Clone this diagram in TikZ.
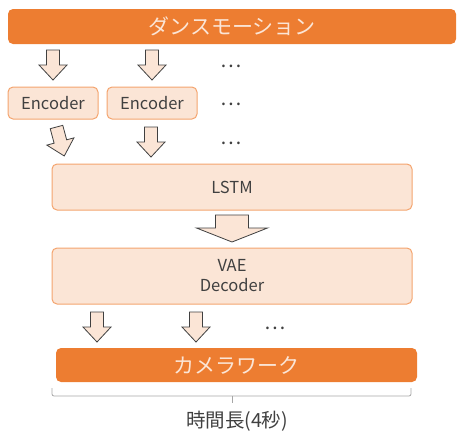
\documentclass[tikz,border=0pt]{standalone}
\usepackage{fontspec}
\setmainfont{Noto Sans CJK JP}
\definecolor{orng}{HTML}{ED7D31}
\definecolor{pale}{HTML}{FBE5D6}
\definecolor{edge}{HTML}{F4A46E}
\definecolor{txt}{HTML}{404040}
\definecolor{brc}{HTML}{A6A6A6}
\begin{document}
\begin{tikzpicture}[x=1pt,y=-1pt,
  bar/.style={fill=orng, rounded corners=5pt, text=pale, font=\fontsize{21}{24}\selectfont, inner sep=0pt},
  box/.style={fill=pale, draw=edge, line width=1pt, rounded corners=5pt, text=txt, font=\fontsize{16.5}{20}\selectfont, inner sep=0pt, align=center},
  blk/.pic={\draw[fill=pale, draw=txt, line width=0.8pt, line join=miter] (-6.5,0) -- (6.5,0) -- (6.5,15) -- (14,15) -- (0,30) -- (-14,15) -- (-6.5,15) -- cycle;},
  bigblk/.pic={\draw[fill=pale, draw=txt, line width=0.8pt, line join=miter] (-16.5,0) -- (16.5,0) -- (16.5,13) -- (35.5,13) -- (0,27) -- (-35.5,13) -- (-16.5,13) -- cycle;},
  dotstyle/.style={text=txt, font=\fontsize{20}{20}\selectfont, inner sep=0pt},
  labelstyle/.style={text=txt, font=\fontsize{19.5}{22}\selectfont, inner sep=0pt}
]
\useasboundingbox (0,0) rectangle (457,432);

% top bar
\node[bar, minimum width=448pt, minimum height=35pt] (dance) at (232,26.5) {ダンスモーション};

% arrows row 1
\pic at (53,50) {blk};
\pic at (152,50) {blk};
\node[dotstyle] (d1) at (231.5,66) {…};

% encoders
\node[box, minimum width=90pt, minimum height=32pt] (enc1) at (53,103) {Encoder};
\node[box, minimum width=90pt, minimum height=32pt] (enc2) at (152,103) {Encoder};
\node[dotstyle] (d2) at (231.5,104) {…};

% arrows row 2
\pic[rotate=15] at (56.5,127) {blk};
\pic at (151,127) {blk};
\node[dotstyle] (d3) at (231.5,143) {…};

% LSTM
\node[box, minimum width=360pt, minimum height=46pt] (lstm) at (232,187) {LSTM};

% big arrow
\pic at (232,215) {bigblk};

% VAE decoder
\node[box, minimum width=360pt, minimum height=56pt, execute at begin node={\setlength{\baselineskip}{20pt}}] (vae) at (232,276) {VAE\\Decoder};

% arrows row 3
\pic at (97,312) {blk};
\pic at (196,312) {blk};
\node[dotstyle] (d4) at (275,328) {…};

% camera bar
\node[bar, minimum width=361pt, minimum height=34pt] (cam) at (236.5,365) {カメラワーク};

% brace
\draw[brc, line width=0.8pt, rounded corners=2pt] (52,388) -- (52,396) -- (411,396) -- (411,388);
\draw[brc, line width=0.8pt] (232,396) -- (232,403);
\node[labelstyle] (dur) at (237,421) {時間長(4秒)};
\end{tikzpicture}
\end{document}
